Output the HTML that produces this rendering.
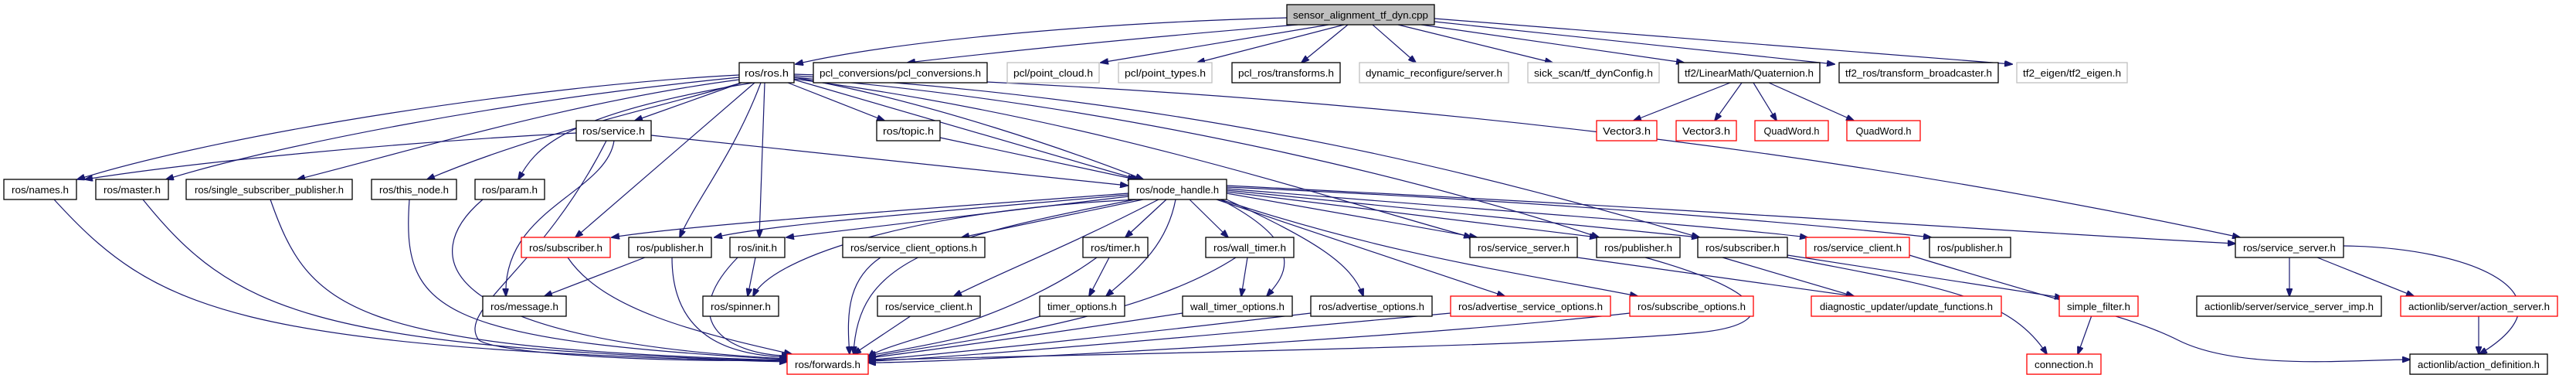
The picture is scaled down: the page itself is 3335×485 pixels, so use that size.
<!DOCTYPE html>
<html><head><meta charset="utf-8"><style>
html,body{margin:0;padding:0;background:#fff;}
svg{display:block;}
text{font-family:"Liberation Sans",sans-serif;font-size:13px;fill:#000;}
.e{fill:none;stroke:#191970;stroke-width:1.2;}
.n rect{fill:#fff;stroke:#000;stroke-width:1.3;}
.g rect{stroke:#bfbfbf;}
.r rect{stroke:#ff0000;}
</style></head><body>
<svg width="3335" height="485" viewBox="0 0 3335 485" xmlns="http://www.w3.org/2000/svg">
<defs><marker id="a" markerWidth="11" markerHeight="8" refX="10" refY="4" orient="auto" markerUnits="userSpaceOnUse"><path d="M0,0 L11,4 L0,8 z" fill="#191970" stroke="#191970"/></marker></defs>
<g marker-end="url(#a)">
<path class="e" d="M1666,23 C1400,30 1150,55 1030,83"/>
<path class="e" d="M1680,32 Q1400,55 1175,81"/>
<path class="e" d="M1720,32 L1425,81"/>
<path class="e" d="M1740,32 L1550,81"/>
<path class="e" d="M1745,32 L1685,81"/>
<path class="e" d="M1777,32 L1833,81"/>
<path class="e" d="M1810,32 L2010,81"/>
<path class="e" d="M1840,32 L2180,81"/>
<path class="e" d="M1857,28 L2375,83"/>
<path class="e" d="M1857,24 L2605,83"/>
<path class="e" d="M957,97 C700,110 300,170 100,232"/>
<path class="e" d="M957,100 C650,130 350,190 215,232"/>
<path class="e" d="M957,103 C750,130 550,190 385,232"/>
<path class="e" d="M960,107 C850,140 700,170 553,232"/>
<path class="e" d="M975,107 C710,150 690,200 671,232"/>
<path class="e" d="M960,107 L822,156"/>
<path class="e" d="M977,107 L745,307"/>
<path class="e" d="M985,107 C950,200 900,260 880,307"/>
<path class="e" d="M990,107 L983,307"/>
<path class="e" d="M1020,107 L1145,156"/>
<path class="e" d="M1028,103 L1473,232"/>
<path class="e" d="M1028,100 C1200,130 1400,200 1480,232"/>
<path class="e" d="M1028,102 C1400,150 1700,250 1905,307"/>
<path class="e" d="M1028,100 C1500,140 1900,250 2070,307"/>
<path class="e" d="M1028,98 C1600,130 2000,250 2200,307"/>
<path class="e" d="M1028,96 C1800,120 2400,200 2900,307"/>
<path class="e" d="M746,172 C500,185 250,210 110,232"/>
<path class="e" d="M843,175 L1460,240"/>
<path class="e" d="M795,182 C785,250 650,270 655,383"/>
<path class="e" d="M785,182 C700,350 590,400 620,440 C650,460 900,470 1019,465"/>
<path class="e" d="M1217,178 L1470,232"/>
<path class="e" d="M70,258 C200,400 300,450 1019,468"/>
<path class="e" d="M185,258 C300,400 400,450 1019,467"/>
<path class="e" d="M350,258 C400,400 450,450 1019,466"/>
<path class="e" d="M530,258 C520,400 560,440 1019,465"/>
<path class="e" d="M625,258 C540,330 560,440 1019,464"/>
<path class="e" d="M735,333 C780,400 900,430 1025,458"/>
<path class="e" d="M835,333 L705,383"/>
<path class="e" d="M870,333 C870,440 950,460 1022,462"/>
<path class="e" d="M978,333 L968,383"/>
<path class="e" d="M955,333 C870,420 950,460 1022,460"/>
<path class="e" d="M1461,250 C1200,270 900,290 792,307"/>
<path class="e" d="M1461,252 C1200,275 1000,290 925,307"/>
<path class="e" d="M1461,254 L1018,307"/>
<path class="e" d="M1475,258 C1200,270 1000,330 975,383"/>
<path class="e" d="M1480,258 L1245,307"/>
<path class="e" d="M1470,258 C1200,310 1110,340 1105,458"/>
<path class="e" d="M1500,258 C1380,320 1300,350 1235,383"/>
<path class="e" d="M1510,258 L1457,307"/>
<path class="e" d="M1522,258 C1510,320 1470,350 1432,383"/>
<path class="e" d="M1540,258 L1590,307"/>
<path class="e" d="M1580,258 C1700,320 1660,360 1640,383"/>
<path class="e" d="M1588,258 C1700,310 1750,340 1765,383"/>
<path class="e" d="M1575,258 L1948,383"/>
<path class="e" d="M1580,258 C1800,330 1950,350 2120,383"/>
<path class="e" d="M1588,250 L1912,307"/>
<path class="e" d="M1588,248 L2068,307"/>
<path class="e" d="M1588,246 L2200,307"/>
<path class="e" d="M1588,244 C1900,270 2200,290 2340,307"/>
<path class="e" d="M1588,242 C2000,260 2350,290 2500,307"/>
<path class="e" d="M1588,240 C2200,270 2600,300 2894,315"/>
<path class="e" d="M1140,333 C1100,360 1095,400 1100,458"/>
<path class="e" d="M1436,333 L1410,383"/>
<path class="e" d="M1420,333 C1300,420 1150,440 1124,462"/>
<path class="e" d="M1615,333 L1607,383"/>
<path class="e" d="M1600,333 C1450,430 1150,450 1124,464"/>
<path class="e" d="M2130,333 C2300,380 2300,420 2200,430 C2000,450 1300,460 1124,466"/>
<path class="e" d="M2042,333 L2400,383"/>
<path class="e" d="M2230,333 L2400,383"/>
<path class="e" d="M2314,330 L2670,385"/>
<path class="e" d="M2314,333 C2500,370 2600,380 2650,458"/>
<path class="e" d="M2472,330 C2700,400 2760,410 2820,440 C2900,480 3050,465 3120,465"/>
<path class="e" d="M1180,408 L1105,458"/>
<path class="e" d="M1350,408 C1250,440 1150,455 1124,460"/>
<path class="e" d="M1531,405 C1300,440 1150,460 1124,463"/>
<path class="e" d="M1697,405 C1400,440 1150,465 1124,465"/>
<path class="e" d="M1878,405 C1500,440 1200,465 1124,467"/>
<path class="e" d="M2110,405 C1800,440 1200,470 1124,469"/>
<path class="e" d="M2964,333 L2964,383"/>
<path class="e" d="M3000,333 L3125,383"/>
<path class="e" d="M3034,318 C3200,320 3340,380 3210,458"/>
<path class="e" d="M3209,408 L3209,458"/>
<path class="e" d="M2708,408 L2690,458"/>
<path class="e" d="M2240,107 L2115,156"/>
<path class="e" d="M2255,107 L2220,156"/>
<path class="e" d="M2270,107 L2300,156"/>
<path class="e" d="M2290,107 L2400,156"/>
</g>
<g class="n"><rect x="1666" y="6" width="191" height="26" style="fill:#bfbfbf"/><text x="1761.5" y="24" text-anchor="middle" textLength="175" lengthAdjust="spacingAndGlyphs">sensor_alignment_tf_dyn.cpp</text></g>
<g class="n"><rect x="957" y="81" width="71" height="26"/><text x="992.5" y="99" text-anchor="middle" textLength="57" lengthAdjust="spacingAndGlyphs">ros/ros.h</text></g>
<g class="n"><rect x="1053" y="81" width="225" height="26"/><text x="1165.5" y="99" text-anchor="middle" textLength="209" lengthAdjust="spacingAndGlyphs">pcl_conversions/pcl_conversions.h</text></g>
<g class="n g"><rect x="1304" y="81" width="119" height="26"/><text x="1363.5" y="99" text-anchor="middle" textLength="103" lengthAdjust="spacingAndGlyphs">pcl/point_cloud.h</text></g>
<g class="n g"><rect x="1448" y="81" width="121" height="26"/><text x="1508.5" y="99" text-anchor="middle" textLength="105" lengthAdjust="spacingAndGlyphs">pcl/point_types.h</text></g>
<g class="n"><rect x="1595" y="81" width="140" height="26"/><text x="1665" y="99" text-anchor="middle" textLength="124" lengthAdjust="spacingAndGlyphs">pcl_ros/transforms.h</text></g>
<g class="n g"><rect x="1760" y="81" width="193" height="26"/><text x="1856.5" y="99" text-anchor="middle" textLength="177" lengthAdjust="spacingAndGlyphs">dynamic_reconfigure/server.h</text></g>
<g class="n g"><rect x="1978" y="81" width="170" height="26"/><text x="2063" y="99" text-anchor="middle" textLength="154" lengthAdjust="spacingAndGlyphs">sick_scan/tf_dynConfig.h</text></g>
<g class="n"><rect x="2173" y="81" width="183" height="26"/><text x="2264.5" y="99" text-anchor="middle" textLength="167" lengthAdjust="spacingAndGlyphs">tf2/LinearMath/Quaternion.h</text></g>
<g class="n"><rect x="2381" y="81" width="206" height="26"/><text x="2484" y="99" text-anchor="middle" textLength="190" lengthAdjust="spacingAndGlyphs">tf2_ros/transform_broadcaster.h</text></g>
<g class="n g"><rect x="2611" y="81" width="143" height="26"/><text x="2682.5" y="99" text-anchor="middle" textLength="127" lengthAdjust="spacingAndGlyphs">tf2_eigen/tf2_eigen.h</text></g>
<g class="n"><rect x="746" y="156" width="97" height="26"/><text x="794.5" y="174" text-anchor="middle" textLength="81" lengthAdjust="spacingAndGlyphs">ros/service.h</text></g>
<g class="n"><rect x="1135" y="156" width="82" height="26"/><text x="1176" y="174" text-anchor="middle" textLength="66" lengthAdjust="spacingAndGlyphs">ros/topic.h</text></g>
<g class="n r"><rect x="2067" y="156" width="78" height="26"/><text x="2106" y="174" text-anchor="middle" textLength="62" lengthAdjust="spacingAndGlyphs">Vector3.h</text></g>
<g class="n r"><rect x="2170" y="156" width="78" height="26"/><text x="2209" y="174" text-anchor="middle" textLength="62" lengthAdjust="spacingAndGlyphs">Vector3.h</text></g>
<g class="n r"><rect x="2272" y="156" width="95" height="26"/><text x="2319.5" y="174" text-anchor="middle" textLength="72" lengthAdjust="spacingAndGlyphs">QuadWord.h</text></g>
<g class="n r"><rect x="2391" y="156" width="95" height="26"/><text x="2438.5" y="174" text-anchor="middle" textLength="72" lengthAdjust="spacingAndGlyphs">QuadWord.h</text></g>
<g class="n"><rect x="5" y="232" width="94" height="26"/><text x="52" y="250" text-anchor="middle" textLength="74" lengthAdjust="spacingAndGlyphs">ros/names.h</text></g>
<g class="n"><rect x="124" y="232" width="94" height="26"/><text x="171" y="250" text-anchor="middle" textLength="74" lengthAdjust="spacingAndGlyphs">ros/master.h</text></g>
<g class="n"><rect x="241" y="232" width="215" height="26"/><text x="348.5" y="250" text-anchor="middle" textLength="193" lengthAdjust="spacingAndGlyphs">ros/single_subscriber_publisher.h</text></g>
<g class="n"><rect x="481" y="232" width="110" height="26"/><text x="536" y="250" text-anchor="middle" textLength="90" lengthAdjust="spacingAndGlyphs">ros/this_node.h</text></g>
<g class="n"><rect x="615" y="232" width="90" height="26"/><text x="660" y="250" text-anchor="middle" textLength="72" lengthAdjust="spacingAndGlyphs">ros/param.h</text></g>
<g class="n"><rect x="1461" y="232" width="127" height="26"/><text x="1524.5" y="250" text-anchor="middle" textLength="107" lengthAdjust="spacingAndGlyphs">ros/node_handle.h</text></g>
<g class="n r"><rect x="675" y="307" width="115" height="26"/><text x="732.5" y="325" text-anchor="middle" textLength="95" lengthAdjust="spacingAndGlyphs">ros/subscriber.h</text></g>
<g class="n"><rect x="814" y="307" width="107" height="26"/><text x="867.5" y="325" text-anchor="middle" textLength="87" lengthAdjust="spacingAndGlyphs">ros/publisher.h</text></g>
<g class="n"><rect x="945" y="307" width="71" height="26"/><text x="980.5" y="325" text-anchor="middle" textLength="51" lengthAdjust="spacingAndGlyphs">ros/init.h</text></g>
<g class="n"><rect x="1091" y="307" width="184" height="26"/><text x="1183" y="325" text-anchor="middle" textLength="164" lengthAdjust="spacingAndGlyphs">ros/service_client_options.h</text></g>
<g class="n"><rect x="1402" y="307" width="84" height="26"/><text x="1444" y="325" text-anchor="middle" textLength="64" lengthAdjust="spacingAndGlyphs">ros/timer.h</text></g>
<g class="n"><rect x="1561" y="307" width="114" height="26"/><text x="1618" y="325" text-anchor="middle" textLength="94" lengthAdjust="spacingAndGlyphs">ros/wall_timer.h</text></g>
<g class="n"><rect x="1903" y="307" width="139" height="26"/><text x="1972.5" y="325" text-anchor="middle" textLength="119" lengthAdjust="spacingAndGlyphs">ros/service_server.h</text></g>
<g class="n"><rect x="2067" y="307" width="108" height="26"/><text x="2121" y="325" text-anchor="middle" textLength="88" lengthAdjust="spacingAndGlyphs">ros/publisher.h</text></g>
<g class="n"><rect x="2198" y="307" width="116" height="26"/><text x="2256" y="325" text-anchor="middle" textLength="96" lengthAdjust="spacingAndGlyphs">ros/subscriber.h</text></g>
<g class="n r"><rect x="2338" y="307" width="134" height="26"/><text x="2405" y="325" text-anchor="middle" textLength="114" lengthAdjust="spacingAndGlyphs">ros/service_client.h</text></g>
<g class="n"><rect x="2498" y="307" width="105" height="26"/><text x="2550.5" y="325" text-anchor="middle" textLength="85" lengthAdjust="spacingAndGlyphs">ros/publisher.h</text></g>
<g class="n"><rect x="2894" y="307" width="140" height="26"/><text x="2964" y="325" text-anchor="middle" textLength="120" lengthAdjust="spacingAndGlyphs">ros/service_server.h</text></g>
<g class="n"><rect x="625" y="383" width="108" height="26"/><text x="679" y="401" text-anchor="middle" textLength="88" lengthAdjust="spacingAndGlyphs">ros/message.h</text></g>
<g class="n"><rect x="910" y="383" width="98" height="26"/><text x="959" y="401" text-anchor="middle" textLength="78" lengthAdjust="spacingAndGlyphs">ros/spinner.h</text></g>
<g class="n"><rect x="1136" y="383" width="133" height="26"/><text x="1202.5" y="401" text-anchor="middle" textLength="113" lengthAdjust="spacingAndGlyphs">ros/service_client.h</text></g>
<g class="n"><rect x="1346" y="383" width="110" height="26"/><text x="1401" y="401" text-anchor="middle" textLength="90" lengthAdjust="spacingAndGlyphs">timer_options.h</text></g>
<g class="n"><rect x="1531" y="383" width="142" height="26"/><text x="1602" y="401" text-anchor="middle" textLength="122" lengthAdjust="spacingAndGlyphs">wall_timer_options.h</text></g>
<g class="n"><rect x="1697" y="383" width="157" height="26"/><text x="1775.5" y="401" text-anchor="middle" textLength="137" lengthAdjust="spacingAndGlyphs">ros/advertise_options.h</text></g>
<g class="n r"><rect x="1878" y="383" width="207" height="26"/><text x="1981.5" y="401" text-anchor="middle" textLength="187" lengthAdjust="spacingAndGlyphs">ros/advertise_service_options.h</text></g>
<g class="n r"><rect x="2110" y="383" width="160" height="26"/><text x="2190" y="401" text-anchor="middle" textLength="140" lengthAdjust="spacingAndGlyphs">ros/subscribe_options.h</text></g>
<g class="n r"><rect x="2345" y="383" width="246" height="26"/><text x="2468" y="401" text-anchor="middle" textLength="224" lengthAdjust="spacingAndGlyphs">diagnostic_updater/update_functions.h</text></g>
<g class="n r"><rect x="2666" y="383" width="102" height="26"/><text x="2717" y="401" text-anchor="middle" textLength="82" lengthAdjust="spacingAndGlyphs">simple_filter.h</text></g>
<g class="n"><rect x="2844" y="383" width="239" height="26"/><text x="2963.5" y="401" text-anchor="middle" textLength="219" lengthAdjust="spacingAndGlyphs">actionlib/server/service_server_imp.h</text></g>
<g class="n r"><rect x="3108" y="383" width="203" height="26"/><text x="3209.5" y="401" text-anchor="middle" textLength="183" lengthAdjust="spacingAndGlyphs">actionlib/server/action_server.h</text></g>
<g class="n r"><rect x="1019" y="458" width="105" height="26"/><text x="1071.5" y="476" text-anchor="middle" textLength="85" lengthAdjust="spacingAndGlyphs">ros/forwards.h</text></g>
<g class="n r"><rect x="2624" y="458" width="96" height="26"/><text x="2672" y="476" text-anchor="middle" textLength="76" lengthAdjust="spacingAndGlyphs">connection.h</text></g>
<g class="n"><rect x="3120" y="458" width="178" height="26"/><text x="3209" y="476" text-anchor="middle" textLength="158" lengthAdjust="spacingAndGlyphs">actionlib/action_definition.h</text></g>
</svg>
</body></html>
